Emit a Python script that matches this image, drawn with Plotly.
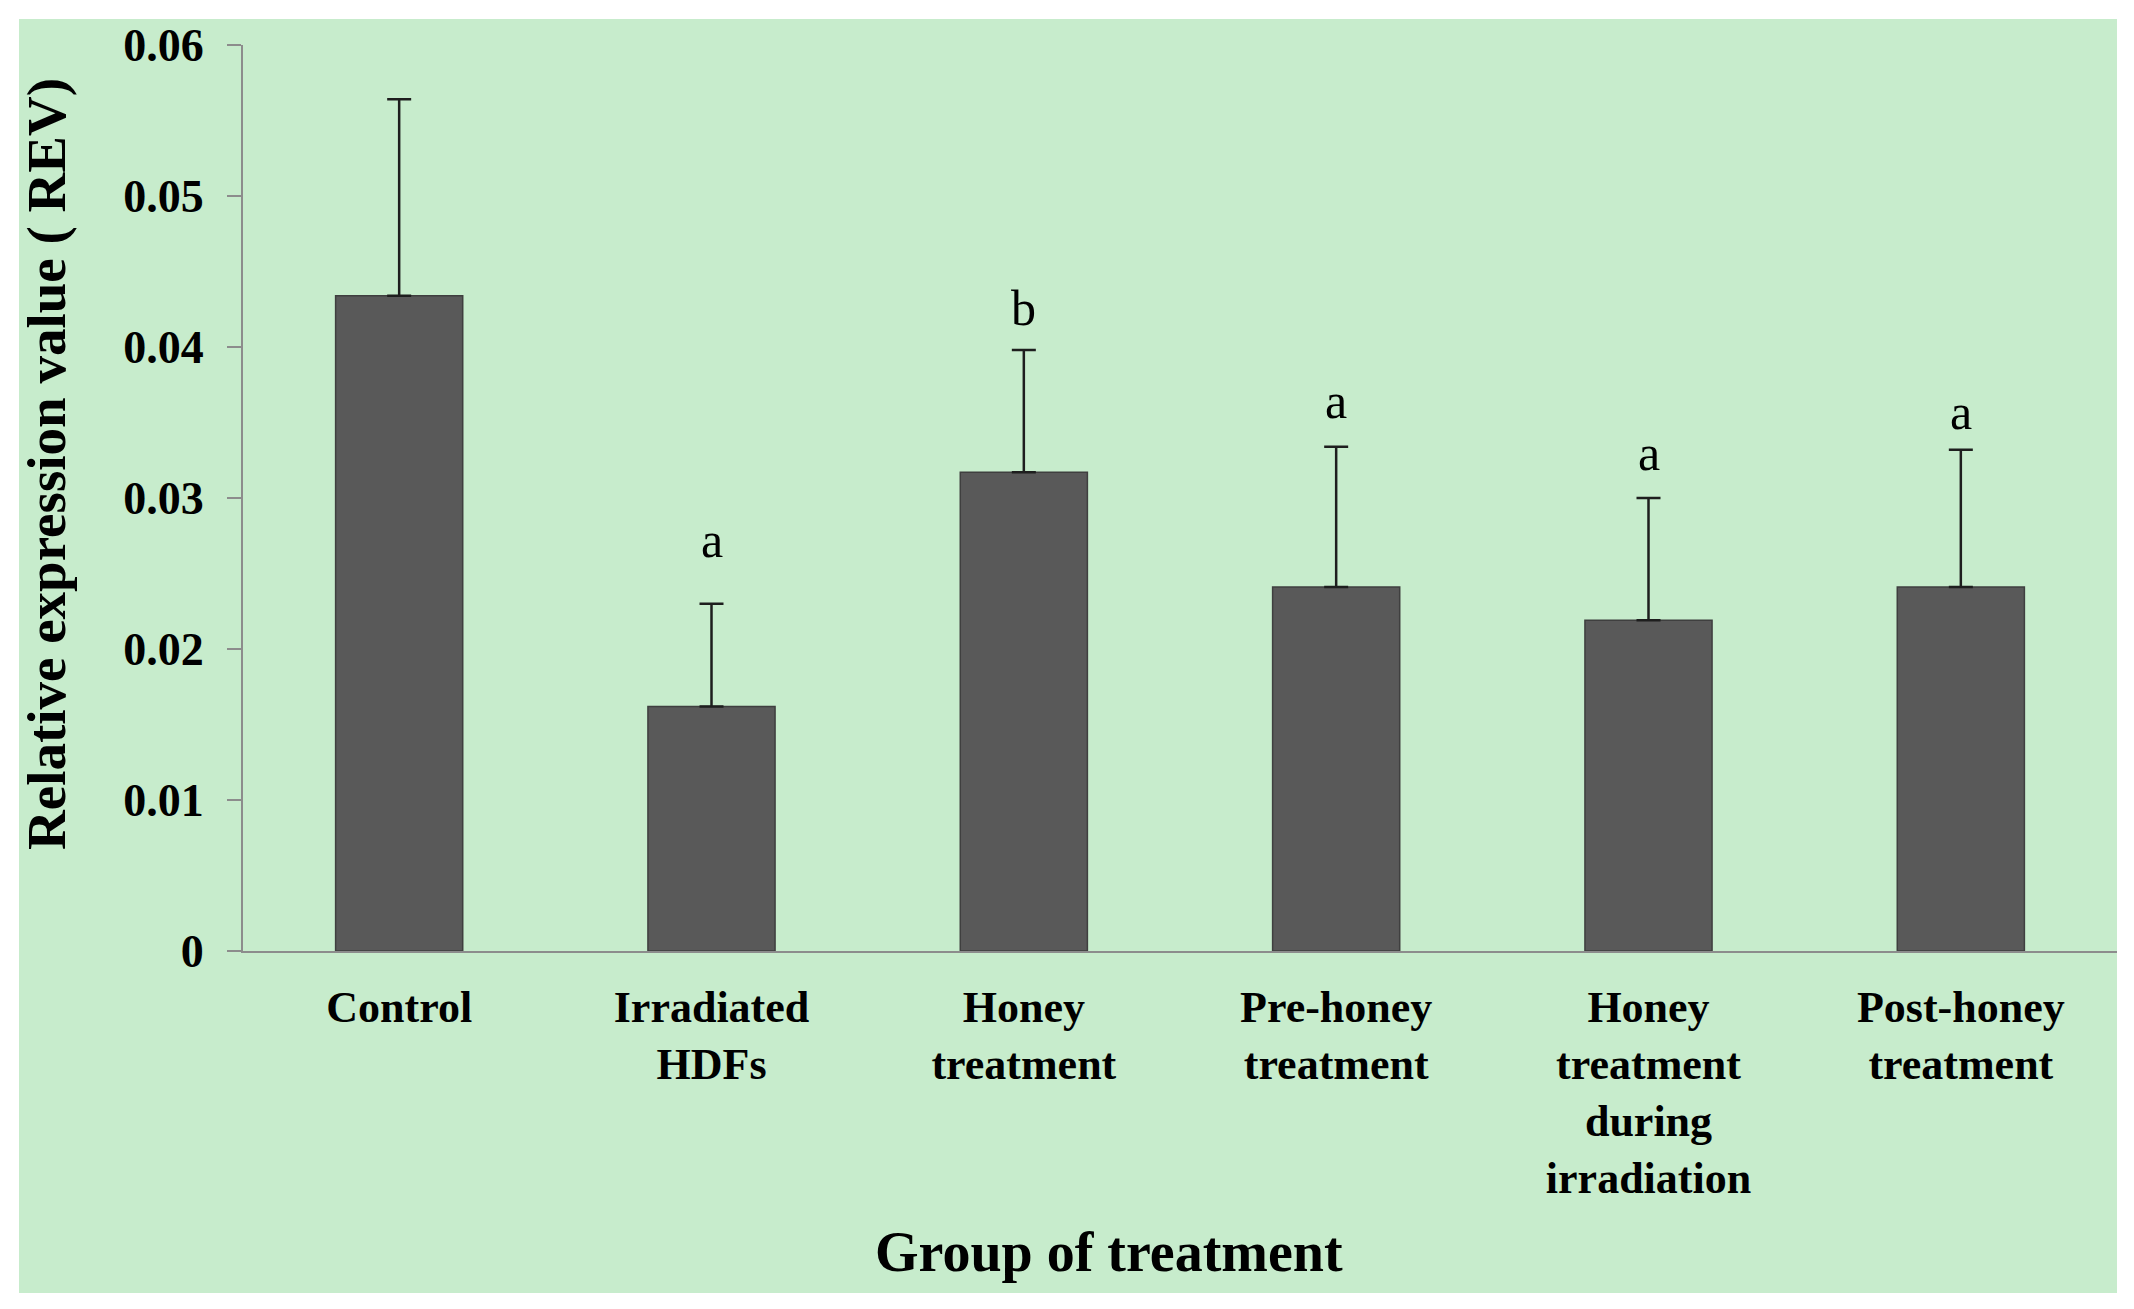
import plotly.graph_objects as go

categories = ["Control", "Irradiated<br>HDFs", "Honey<br>treatment", "Pre-honey<br>treatment",
              "Honey<br>treatment<br>during<br>irradiation", "Post-honey<br>treatment"]
means = [0.0434, 0.0162, 0.0317, 0.0241, 0.0219, 0.0241]
errors = [0.0130, 0.0068, 0.0081, 0.0093, 0.0081, 0.0091]
letters = ["", "a", "b", "a", "a", "a"]
letter_y = [None, 0.0272, 0.0426, 0.0364, 0.0330, 0.0357]
y_ticks = [0, 0.01, 0.02, 0.03, 0.04, 0.05, 0.06]
y_ticktext = ["0", "0.01", "0.02", "0.03", "0.04", "0.05", "0.06"]

# page geometry (browser body has an 8px margin)
OFF = 8
PW, PH = 2134, 1309
W, H = PW - 2 * OFF, PH - 2 * OFF
# plot area in page pixels
px0, px1, py0, py1 = 243, 2117, 45, 951
L, R, T, B = px0 - OFF, (W + OFF) - px1, py0 - OFF, (H + OFF) - py1
pw, ph = px1 - px0, py1 - py0
GREEN = "#C7ECCC"
FONT = "Liberation Serif"


def xp(page_x):
    return (page_x - px0) / pw


def yp(page_y):
    return (py1 - page_y) / ph


fig = go.Figure()
fig.add_trace(go.Bar(
    x=categories, y=means,
    marker=dict(color="#595959", line=dict(color="#3f3f3f", width=1.5)),
    error_y=dict(type="data", array=errors, arrayminus=[0] * len(errors), symmetric=False,
                 color="#1e1e1e", thickness=2.5, width=12),
    width=0.407,
))

for c, t, yv in zip(categories, letters, letter_y):
    if t:
        fig.add_annotation(x=c, y=yv, text=t, showarrow=False, yanchor="middle",
                           font=dict(family=FONT, size=50, color="black"))

# axis titles placed like the original
fig.add_annotation(xref="paper", yref="paper", x=xp(1109), y=yp(1252),
                   text="<b>Group of treatment</b>", showarrow=False, xanchor="center", yanchor="middle",
                   font=dict(family=FONT, size=56, color="black"))
fig.add_annotation(xref="paper", yref="paper", x=xp(46), y=yp(464), textangle=-90,
                   text="<b>Relative expression value ( REV)</b>", showarrow=False,
                   xanchor="center", yanchor="middle",
                   font=dict(family=FONT, size=55, color="black"))

# green panel behind the whole chart
fig.add_shape(type="rect", xref="paper", yref="paper", layer="below",
              x0=xp(19), x1=xp(2117), y0=yp(1293), y1=yp(19),
              fillcolor=GREEN, line=dict(width=0))

fig.update_layout(
    width=W, height=H,
    margin=dict(l=L, r=R, t=T, b=B),
    paper_bgcolor="white", plot_bgcolor=GREEN,
    showlegend=False,
    font=dict(family=FONT, color="black"),
    xaxis=dict(showline=True, linecolor="#8c8c8c", linewidth=2, ticks="", showgrid=False,
               tickfont=dict(family=FONT, size=44, color="black", weight="bold"),
               ticklabelstandoff=16),
    yaxis=dict(range=[0, 0.06], tickvals=y_ticks, ticktext=y_ticktext,
               showline=True, linecolor="#8c8c8c", linewidth=2,
               ticks="outside", ticklen=14, tickwidth=2, tickcolor="#8c8c8c",
               showgrid=False, zeroline=False,
               tickfont=dict(family=FONT, size=46, color="black", weight="bold"),
               ticklabelstandoff=14),
)

fig.write_html("out.html")
